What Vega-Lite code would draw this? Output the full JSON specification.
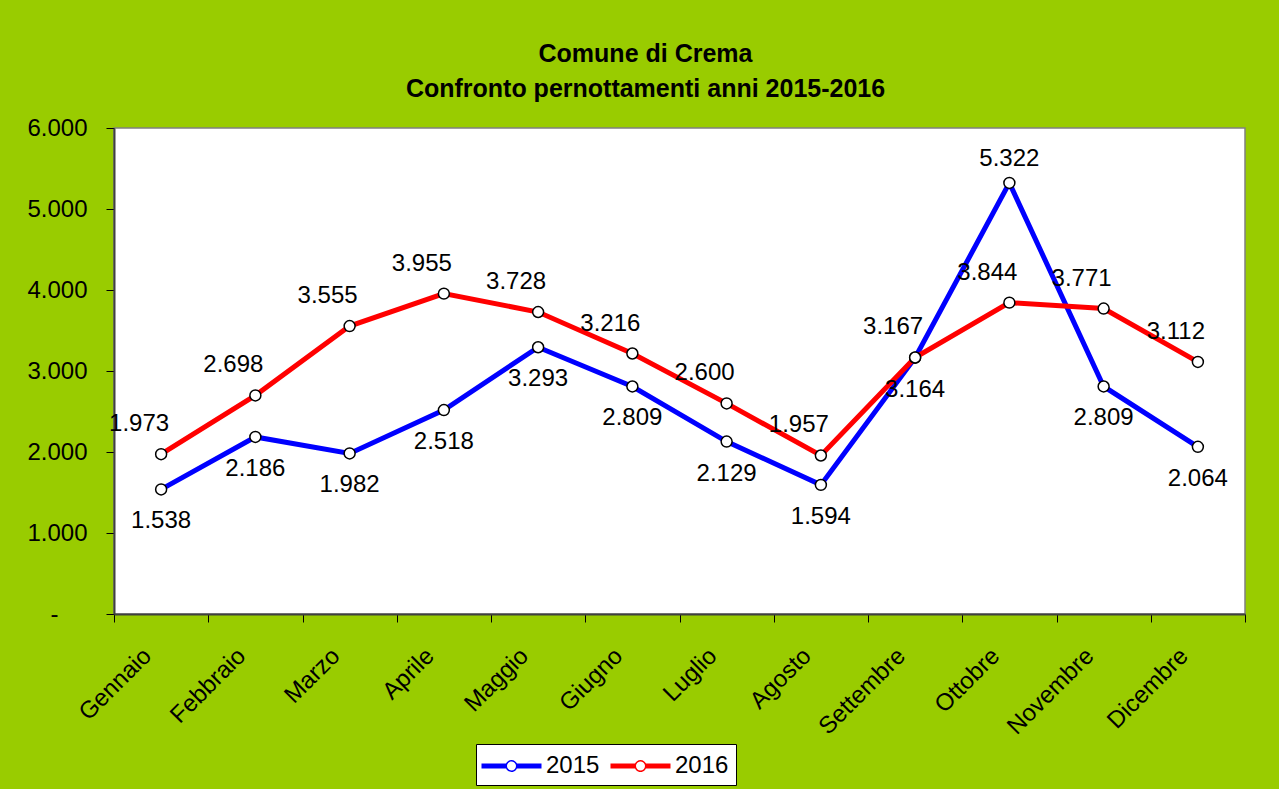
{
  "$schema": "https://vega.github.io/schema/vega-lite/v6.json",
  "width": 1131,
  "height": 486,
  "autosize": {"type": "none"},
  "padding": {"left": 114, "top": 128, "right": 34, "bottom": 175},
  "background": "#99CC00",
  "title": {
    "text": ["Comune di Crema", "Confronto pernottamenti anni 2015-2016"],
    "font": "Liberation Sans",
    "fontSize": 25,
    "fontWeight": "bold",
    "color": "black",
    "anchor": "middle",
    "dx": -34,
    "lineHeight": 35,
    "offset": 14
  },
  "data": {
    "values": [
      {"mese": "Gennaio", "anno": "2015", "valore": 1538},
      {"mese": "Febbraio", "anno": "2015", "valore": 2186},
      {"mese": "Marzo", "anno": "2015", "valore": 1982},
      {"mese": "Aprile", "anno": "2015", "valore": 2518},
      {"mese": "Maggio", "anno": "2015", "valore": 3293},
      {"mese": "Giugno", "anno": "2015", "valore": 2809},
      {"mese": "Luglio", "anno": "2015", "valore": 2129},
      {"mese": "Agosto", "anno": "2015", "valore": 1594},
      {"mese": "Settembre", "anno": "2015", "valore": 3164},
      {"mese": "Ottobre", "anno": "2015", "valore": 5322},
      {"mese": "Novembre", "anno": "2015", "valore": 2809},
      {"mese": "Dicembre", "anno": "2015", "valore": 2064},
      {"mese": "Gennaio", "anno": "2016", "valore": 1973},
      {"mese": "Febbraio", "anno": "2016", "valore": 2698},
      {"mese": "Marzo", "anno": "2016", "valore": 3555},
      {"mese": "Aprile", "anno": "2016", "valore": 3955},
      {"mese": "Maggio", "anno": "2016", "valore": 3728},
      {"mese": "Giugno", "anno": "2016", "valore": 3216},
      {"mese": "Luglio", "anno": "2016", "valore": 2600},
      {"mese": "Agosto", "anno": "2016", "valore": 1957},
      {"mese": "Settembre", "anno": "2016", "valore": 3167},
      {"mese": "Ottobre", "anno": "2016", "valore": 3844},
      {"mese": "Novembre", "anno": "2016", "valore": 3771},
      {"mese": "Dicembre", "anno": "2016", "valore": 3112}
    ]
  },
  "encoding": {
    "x": {
      "field": "mese",
      "type": "nominal",
      "sort": ["Gennaio", "Febbraio", "Marzo", "Aprile", "Maggio", "Giugno", "Luglio", "Agosto", "Settembre", "Ottobre", "Novembre", "Dicembre"],
      "scale": {"type": "band", "paddingInner": 0, "paddingOuter": 0},
      "axis": {
        "title": null,
        "grid": false,
        "tickBand": "extent",
        "tickSize": 8,
        "tickColor": "black",
        "tickWidth": 1,
        "domainColor": "#404040",
        "domainWidth": 2,
        "labelAngle": -45,
        "labelAlign": "right",
        "labelBaseline": "middle",
        "labelPadding": 30,
        "labelOffset": -14,
        "labelFont": "Liberation Sans",
        "labelFontSize": 24,
        "labelColor": "black"
      }
    },
    "y": {
      "field": "valore",
      "type": "quantitative",
      "scale": {"domain": [0, 6000], "nice": false},
      "axis": {
        "title": null,
        "grid": false,
        "values": [0, 1000, 2000, 3000, 4000, 5000, 6000],
        "format": ",d",
        "labelExpr": "datum.value == 0 ? '-' : datum.label",
        "tickSize": 8,
        "tickColor": "black",
        "domainColor": "#404040",
        "domainWidth": 2,
        "labelPadding": {"condition": {"test": "datum.value == 0", "value": 48}, "value": 19},
        "labelFont": "Liberation Sans",
        "labelFontSize": 24,
        "labelColor": "black"
      }
    }
  },
  "layer": [
    {
      "mark": {"type": "line", "strokeWidth": 5},
      "encoding": {
        "color": {
          "field": "anno",
          "type": "nominal",
          "scale": {"domain": ["2015", "2016"], "range": ["#0000FF", "#FF0000"]},
          "legend": {
            "orient": "none",
            "legendX": 362,
            "legendY": 616,
            "direction": "horizontal",
            "title": null,
            "symbolType": "M-2,-0.1667H-0.32V0.1667H-2ZM0.32,-0.1667H2V0.1667H0.32ZM0.4,0A0.4,0.4,0,1,1,-0.4,0A0.4,0.4,0,1,1,0.4,0ZM0.3,0A0.3,0.3,0,1,0,-0.3,0A0.3,0.3,0,1,0,0.3,0Z",
            "symbolSize": 900,
            "symbolOffset": 13.5,
            "symbolStrokeWidth": 0,
            "labelOffset": 19.5,
            "labelFont": "Liberation Sans",
            "labelFontSize": 24,
            "labelColor": "black",
            "columnPadding": 10,
            "padding": 7,
            "fillColor": "white",
            "strokeColor": "black",
            "encode": {
              "symbols": {
                "update": {
                  "fill": {"scale": "color", "field": "value"},
                  "fillOpacity": {"value": 1},
                  "stroke": {"value": "transparent"},
                  "strokeWidth": {"value": 0},
                  "opacity": {"value": 1}
                }
              }
            }
          }
        }
      }
    },
    {
      "mark": {"type": "point", "shape": "circle", "filled": true, "fill": "white", "stroke": "black", "strokeWidth": 1.5, "size": 120, "opacity": 1}
    },
    {
      "transform": [{"filter": "datum.anno == '2015' && datum.valore < 5000"}],
      "mark": {"type": "text", "dy": 32, "font": "Liberation Sans", "fontSize": 24, "color": "black"},
      "encoding": {"text": {"field": "valore", "type": "quantitative", "format": ",d"}}
    },
    {
      "transform": [{"filter": "datum.anno == '2015' && datum.valore >= 5000"}],
      "mark": {"type": "text", "dy": -24, "font": "Liberation Sans", "fontSize": 24, "color": "black"},
      "encoding": {"text": {"field": "valore", "type": "quantitative", "format": ",d"}}
    },
    {
      "transform": [{"filter": "datum.anno == '2016'"}],
      "mark": {"type": "text", "dx": -22, "dy": -30, "font": "Liberation Sans", "fontSize": 24, "color": "black"},
      "encoding": {"text": {"field": "valore", "type": "quantitative", "format": ",d"}}
    }
  ],
  "config": {
    "locale": {"number": {"decimal": ",", "thousands": ".", "grouping": [3], "currency": ["", " €"]}},
    "view": {"fill": "white", "stroke": "#808080", "strokeWidth": 1.5}
  }
}
